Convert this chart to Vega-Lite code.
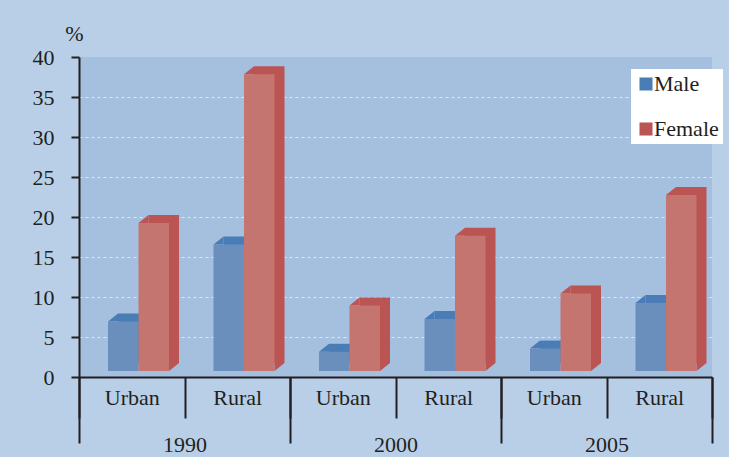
{
  "$schema": "https://vega.github.io/schema/vega-lite/v6.json",
  "width": 633,
  "height": 320,
  "autosize": {"type": "none"},
  "padding": {"left": 79, "top": 57, "right": 17, "bottom": 80},
  "background": "#b9cfe8",
  "config": {
    "view": {"fill": "#a5bfdf", "stroke": null},
    "font": "Liberation Serif",
    "axis": {
      "labelFont": "Liberation Serif",
      "titleFont": "Liberation Serif",
      "labelColor": "#231f20",
      "titleColor": "#231f20",
      "domainColor": "#231f20",
      "tickColor": "#231f20",
      "domainWidth": 2,
      "tickWidth": 2
    },
    "legend": {
      "labelFont": "Liberation Serif",
      "labelFontSize": 22,
      "labelColor": "#231f20"
    }
  },
  "data": {
    "values": [
      {"year": "1990", "area": "Urban", "group": "1990 Urban", "sex": "Male", "value": 6.2},
      {"year": "1990", "area": "Urban", "group": "1990 Urban", "sex": "Female", "value": 18.5},
      {"year": "1990", "area": "Rural", "group": "1990 Rural", "sex": "Male", "value": 15.8},
      {"year": "1990", "area": "Rural", "group": "1990 Rural", "sex": "Female", "value": 37.1},
      {"year": "2000", "area": "Urban", "group": "2000 Urban", "sex": "Male", "value": 2.4},
      {"year": "2000", "area": "Urban", "group": "2000 Urban", "sex": "Female", "value": 8.2},
      {"year": "2000", "area": "Rural", "group": "2000 Rural", "sex": "Male", "value": 6.5},
      {"year": "2000", "area": "Rural", "group": "2000 Rural", "sex": "Female", "value": 16.9},
      {"year": "2005", "area": "Urban", "group": "2005 Urban", "sex": "Male", "value": 2.8},
      {"year": "2005", "area": "Urban", "group": "2005 Urban", "sex": "Female", "value": 9.7},
      {"year": "2005", "area": "Rural", "group": "2005 Rural", "sex": "Male", "value": 8.5},
      {"year": "2005", "area": "Rural", "group": "2005 Rural", "sex": "Female", "value": 22.0}
    ]
  },
  "layer": [
    {
      "encoding": {
        "x": {
          "field": "group",
          "type": "nominal",
          "scale": {
            "domain": ["1990 Urban", "1990 Rural", "2000 Urban", "2000 Rural", "2005 Urban", "2005 Rural"],
            "paddingInner": 0,
            "paddingOuter": 0
          },
          "axis": {
            "title": null,
            "orient": "bottom",
            "grid": false,
            "tickBand": "extent",
            "tickSize": 41,
            "labelAngle": 0,
            "labelFontSize": 22,
            "labelPadding": -20.5,
            "labelBaseline": "middle",
            "labelExpr": "split(datum.value, ' ')[1]"
          }
        },
        "y": {
          "field": "value",
          "type": "quantitative",
          "scale": {"domain": [0, 40], "nice": false},
          "axis": {
            "title": "%",
            "titleAngle": 0,
            "titleFontSize": 22,
            "titleFontWeight": "normal",
            "titleAlign": "center",
            "titleBaseline": "middle",
            "titleX": -5,
            "titleY": -24,
            "values": [0, 5, 10, 15, 20, 25, 30, 35, 40],
            "tickSize": 8,
            "labelFontSize": 22,
            "labelPadding": 17,
            "grid": true,
            "gridColor": "#e8eff8",
            "gridDash": [3, 3],
            "gridWidth": 1,
            "gridOpacity": {"condition": {"test": "datum.value == 40 || datum.value == 0", "value": 0}, "value": 0.85}
          }
        }
      },
      "layer": [
        {
          "transform": [{"filter": "datum.sex == 'Male'"}],
          "mark": {"type": "bar", "width": 30.5, "xOffset": 1.5, "yOffset": -14, "y2Offset": -14},
          "encoding": {
            "color": {
              "field": "sex",
              "type": "nominal",
              "scale": {"domain": ["Male", "Female"], "range": ["#4a7db5", "#bb5553"]},
              "legend": {
                "title": null,
                "orient": "none",
                "legendX": 552,
                "legendY": 12,
                "fillColor": "#ffffff",
                "padding": 4,
                "rowPadding": 23,
                "symbolType": "square",
                "symbolSize": 170,
                "symbolStrokeWidth": 0,
                "labelOffset": -3
              }
            }
          }
        },
        {
          "transform": [{"filter": "datum.sex == 'Male'"}],
          "mark": {"type": "point", "shape": "M -1 0 L 0 -0.8 L 0 0 Z", "size": 400, "filled": true, "opacity": 1, "strokeWidth": 0, "color": "#4a7db5", "xOffset": -13.75, "yOffset": -6}
        },
        {
          "transform": [{"filter": "datum.sex == 'Male'"}],
          "mark": {"type": "bar", "width": 30.5, "xOffset": -8.5, "yOffset": -6, "y2Offset": -6, "color": "#6a8fbd"}
        },
        {
          "transform": [{"filter": "datum.sex == 'Female'"}],
          "mark": {"type": "bar", "width": 30.5, "xOffset": 32, "yOffset": -14, "y2Offset": -14},
          "encoding": {
            "color": {
              "field": "sex",
              "type": "nominal",
              "scale": {"domain": ["Male", "Female"], "range": ["#4a7db5", "#bb5553"]}
            }
          }
        },
        {
          "transform": [{"filter": "datum.sex == 'Female'"}],
          "mark": {"type": "point", "shape": "M -1 0 L 0 -0.8 L 0 0 Z", "size": 400, "filled": true, "opacity": 1, "strokeWidth": 0, "color": "#bb5553", "xOffset": 16.75, "yOffset": -6}
        },
        {
          "transform": [{"filter": "datum.sex == 'Female'"}],
          "mark": {"type": "point", "shape": "M 0 0 L 0 -0.8 L 1 -0.8 Z", "size": 400, "filled": true, "opacity": 1, "strokeWidth": 0, "color": "#bb5553", "xOffset": 37.25, "yOffset": -6},
          "encoding": {"y": {"datum": 0}}
        },
        {
          "transform": [{"filter": "datum.sex == 'Female'"}],
          "mark": {"type": "bar", "width": 30.5, "xOffset": 22, "yOffset": -6, "y2Offset": -6, "color": "#c4756f"}
        }
      ]
    },
    {
      "mark": {"type": "bar", "opacity": 0},
      "encoding": {
        "x": {
          "field": "year",
          "type": "nominal",
          "scale": {"domain": ["1990", "2000", "2005"], "paddingInner": 0, "paddingOuter": 0},
          "axis": {
            "title": null,
            "orient": "bottom",
            "grid": false,
            "domain": false,
            "tickBand": "extent",
            "tickSize": 66,
            "labelAngle": 0,
            "labelFontSize": 22,
            "labelPadding": 1,
            "labelBaseline": "middle"
          }
        }
      }
    }
  ],
  "resolve": {"scale": {"x": "independent"}}
}
